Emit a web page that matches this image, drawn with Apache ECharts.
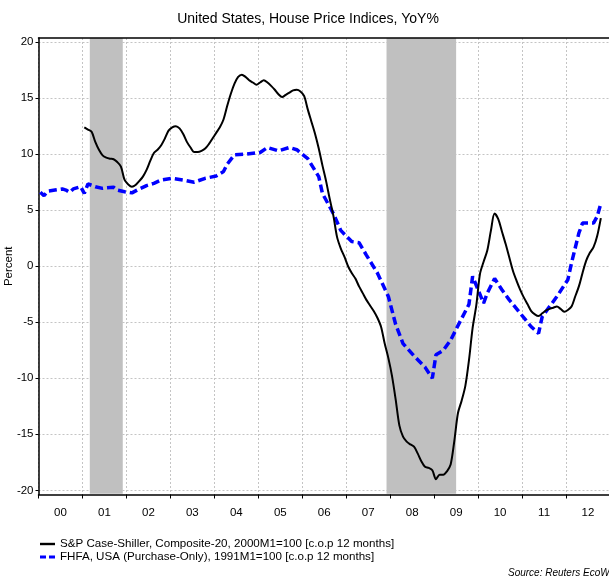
<!DOCTYPE html>
<html>
<head>
<meta charset="utf-8">
<script src="https://cdn.jsdelivr.net/npm/echarts@6/dist/echarts.min.js"></script>
<style>
html, body { margin: 0; padding: 0; background: #fff; }
#chart { width: 609px; height: 579px; }
</style>
</head>
<body>
<div id="chart"></div>
<script>
// year labels on the x axis
var yearLabels = ['00', '01', '02', '03', '04', '05', '06', '07', '08', '09', '10', '11', '12'];
var yTicks = [-20, -15, -10, -5, 0, 5, 10, 15, 20];

// recessions (first month, last month)
var recessionStart = ['2001-03', '2007-12'];
var recessionEnd = ['2001-11', '2009-06'];

// S&P Case-Shiller 20, yoy %, monthly from 2001-01
var csStart = '2001-01';
var csValues = [
    12.4, 12.2, 12.0, 11.1, 10.4, 9.9, 9.7, 9.6, 9.55, 9.3, 8.9, 7.7,
    7.3, 7.1, 7.25, 7.6, 8.0, 8.6, 9.4, 10.1, 10.4, 10.8, 11.4, 12.1,
    12.4, 12.5, 12.3, 11.8, 11.1, 10.6, 10.2, 10.2, 10.3, 10.5, 10.9, 11.4,
    11.9, 12.4, 13.1, 14.3, 15.4, 16.3, 16.9, 17.1, 16.9, 16.6, 16.4, 16.2,
    16.4, 16.6, 16.4, 16.1, 15.75, 15.35, 15.1, 15.3, 15.5, 15.7, 15.75, 15.6,
    15.2, 14.0, 12.9, 11.8, 10.5, 9.0, 7.6, 6.0, 4.5, 2.6, 1.6, 0.85,
    0.0, -0.6, -1.1, -1.8, -2.4, -3.0, -3.5, -4.0, -4.6, -5.4, -6.9, -8.2,
    -9.8, -11.9, -14.2, -15.2, -15.65, -15.9, -16.1, -16.7, -17.4, -17.9, -18.0, -18.2,
    -19.0, -18.6, -18.6, -18.3, -17.7, -15.6, -13.1, -12.0, -10.7, -8.4, -5.5, -3.5,
    -0.7, 0.4, 1.4, 3.2, 4.7, 4.2, 3.1, 2.0, 0.8, -0.4, -1.3, -2.1,
    -2.8, -3.4, -4.0, -4.3, -4.45, -4.2, -3.95, -3.8, -3.7, -3.6, -3.8, -4.05,
    -3.9, -3.6, -2.7, -1.8, -0.6, 0.5, 1.2, 1.7, 2.7, 4.3
];

// FHFA purchase-only, yoy %
var fhfaMonths = [
    '2000-01', '2000-02', '2000-03', '2000-05', '2000-07', '2000-08', '2000-09', '2000-10', '2000-12',
    '2001-01', '2001-02', '2001-04', '2001-06', '2001-07', '2001-09', '2001-10', '2001-12',
    '2002-02', '2002-04', '2002-06', '2002-08', '2002-10',
    '2003-01', '2003-04', '2003-07', '2003-10',
    '2004-01', '2004-03', '2004-04', '2004-06', '2004-09',
    '2005-01', '2005-03', '2005-06', '2005-09', '2005-11',
    '2006-02', '2006-05', '2006-06', '2006-09', '2006-11',
    '2007-02', '2007-04', '2007-06', '2007-09', '2007-12',
    '2008-02', '2008-04', '2008-07', '2008-10', '2008-12',
    '2009-01', '2009-03', '2009-05', '2009-07', '2009-10', '2009-11',
    '2010-02', '2010-03', '2010-05', '2010-07', '2010-09', '2010-12',
    '2011-03', '2011-05', '2011-06', '2011-08', '2011-10',
    '2012-01', '2012-02', '2012-04', '2012-05', '2012-08', '2012-09', '2012-10'
];
var fhfaValues = [
    6.6, 6.3, 6.7, 6.8, 6.9, 6.8, 6.6, 6.9, 7.1,
    6.5, 7.35, 7.1, 6.95, 7.0, 7.05, 6.8, 6.65,
    6.55, 6.9, 7.2, 7.4, 7.7,
    7.85, 7.7, 7.5, 7.85,
    8.05, 8.45, 9.1, 9.95, 10.0,
    10.15, 10.6, 10.3, 10.6, 10.4,
    9.6, 8.0, 6.5, 4.7, 3.2,
    2.2, 2.1, 1.0, -0.6, -2.7,
    -5.2, -6.9, -8.0, -9.0, -10.0,
    -7.9, -7.5, -6.6, -5.3, -3.4, -0.9,
    -3.3, -2.4, -1.1, -2.1, -3.0, -4.2,
    -5.4, -6.0, -4.5, -3.6, -2.7,
    -1.2, 0.3, 2.95, 3.85, 3.85, 4.45, 5.6
];

var csName = 'S&P Case-Shiller, Composite-20, 2000M1=100 [c.o.p 12 months]';
var fhfaName = 'FHFA, USA (Purchase-Only), 1991M1=100 [c.o.p 12 months]';

var FONT = 'Liberation Sans, Arial, sans-serif';

// mid-month position in decimal years
function midMonth(s) {
    var p = s.split('-');
    return +p[0] + (+p[1] - 0.5) / 12;
}
function monthStart(s) {
    var p = s.split('-');
    return +p[0] + (+p[1] - 1) / 12;
}
function monthEnd(s) {
    var p = s.split('-');
    return +p[0] + (+p[1]) / 12;
}

var csData = [];
var cy = +csStart.split('-')[0], cm = +csStart.split('-')[1];
for (var i = 0; i < csValues.length; i++) {
    var m = cm - 1 + i;
    var key = (cy + Math.floor(m / 12)) + '-' + ('0' + (m % 12 + 1)).slice(-2);
    csData.push([midMonth(key), csValues[i]]);
}

var fhfaData = [];
for (var j = 0; j < fhfaMonths.length; j++) {
    fhfaData.push([midMonth(fhfaMonths[j]), fhfaValues[j]]);
}

var recData = [];
for (var k = 0; k < recessionStart.length; k++) {
    recData.push([monthStart(recessionStart[k]), monthEnd(recessionEnd[k])]);
}

var chart = echarts.init(document.getElementById('chart'));

var option = {
    animation: false,
    backgroundColor: '#fff',
    textStyle: { fontFamily: FONT },
    grid: { left: 38.5, right: -1, top: 38, bottom: 84.5, containLabel: false, outerBoundsMode: 'none' },
    xAxis: [
        {
            type: 'category',
            data: yearLabels,
            position: 'bottom',
            boundaryGap: true,
            axisLine: { onZero: false, lineStyle: { color: '#000', width: 1.5 } },
            axisTick: { show: true, length: 4, lineStyle: { color: '#000' } },
            axisLabel: { interval: 0, color: '#000', fontSize: 11.5, margin: 12, fontFamily: FONT },
            splitLine: { show: true, interval: 0, lineStyle: { color: '#c4c4c4', type: [2, 2] } }
        },
        {
            // data axis (decimal years), also draws the top frame
            type: 'value',
            min: 2000,
            max: 2013,
            position: 'top',
            z: 10,
            axisLine: { show: true, onZero: false, lineStyle: { color: '#000', width: 1.5 } },
            axisTick: { show: false },
            axisLabel: { show: false },
            splitLine: { show: false }
        }
    ],
    yAxis: {
        type: 'value',
        min: -20.37,
        max: 20.37,
        splitNumber: 8,
        name: 'Percent',
        nameLocation: 'middle',
        nameGap: 24,
        nameMoveOverlap: false,
        nameTextStyle: { color: '#000', fontSize: 11.5, fontFamily: FONT },
        axisLine: { show: true, onZero: false, lineStyle: { color: '#000', width: 1.5 } },
        axisTick: { show: true, length: 3, customValues: yTicks, lineStyle: { color: '#000' } },
        axisLabel: {
            color: '#000', fontSize: 11.5, margin: 5, fontFamily: FONT,
            formatter: function (v) { return Math.abs(v % 5) < 1e-6 ? String(v) : ''; }
        },
        splitLine: { show: true, lineStyle: { color: '#c4c4c4', type: [2, 2] } }
    },
    legend: {
        orient: 'vertical',
        left: 40,
        top: 538,
        padding: 0,
        itemWidth: 15,
        itemHeight: 3,
        itemGap: 1,
        textStyle: { color: '#000', fontSize: 11.6, lineHeight: 12, fontFamily: FONT },
        data: [
            { name: csName, icon: 'path://M0,0h15v2.4h-15z' },
            { name: fhfaName, icon: 'path://M0,0h6v3h-6z M9,0h6v3h-6z' }
        ]
    },
    graphic: [
        {
            type: 'text', x: 308, y: 19,
            style: { text: 'United States, House Price Indices, YoY%', fill: '#000',
                font: '14px ' + FONT, textAlign: 'center', textVerticalAlign: 'middle' }
        },
        {
            type: 'text', x: 508, y: 573,
            style: { text: 'Source: Reuters EcoWin', fill: '#000',
                font: 'italic 10px ' + FONT, textAlign: 'left', textVerticalAlign: 'middle' }
        }
    ],
    series: [
        {
            type: 'custom',
            xAxisIndex: 1,
            silent: true,
            z: 1,
            data: recData,
            encode: { x: [0, 1] },
            renderItem: function (params, api) {
                var a = api.coord([api.value(0), 0]);
                var b = api.coord([api.value(1), 0]);
                var cs = params.coordSys;
                return {
                    type: 'rect',
                    shape: { x: a[0], y: cs.y, width: b[0] - a[0], height: cs.height - 0.75 },
                    style: { fill: '#c0c0c0' }
                };
            }
        },
        {
            name: csName,
            type: 'line',
            xAxisIndex: 1,
            data: csData,
            symbol: 'none',
            smooth: 0.3,
            z: 4,
            lineStyle: { color: '#000', width: 2 },
            itemStyle: { color: '#000' }
        },
        {
            name: fhfaName,
            type: 'line',
            xAxisIndex: 1,
            data: fhfaData,
            symbol: 'none',
            z: 3,
            lineStyle: { color: '#0000ff', width: 3.5, type: [8, 4] },
            itemStyle: { color: '#0000ff' }
        }
    ]
};

chart.setOption(option);
</script>
</body>
</html>
